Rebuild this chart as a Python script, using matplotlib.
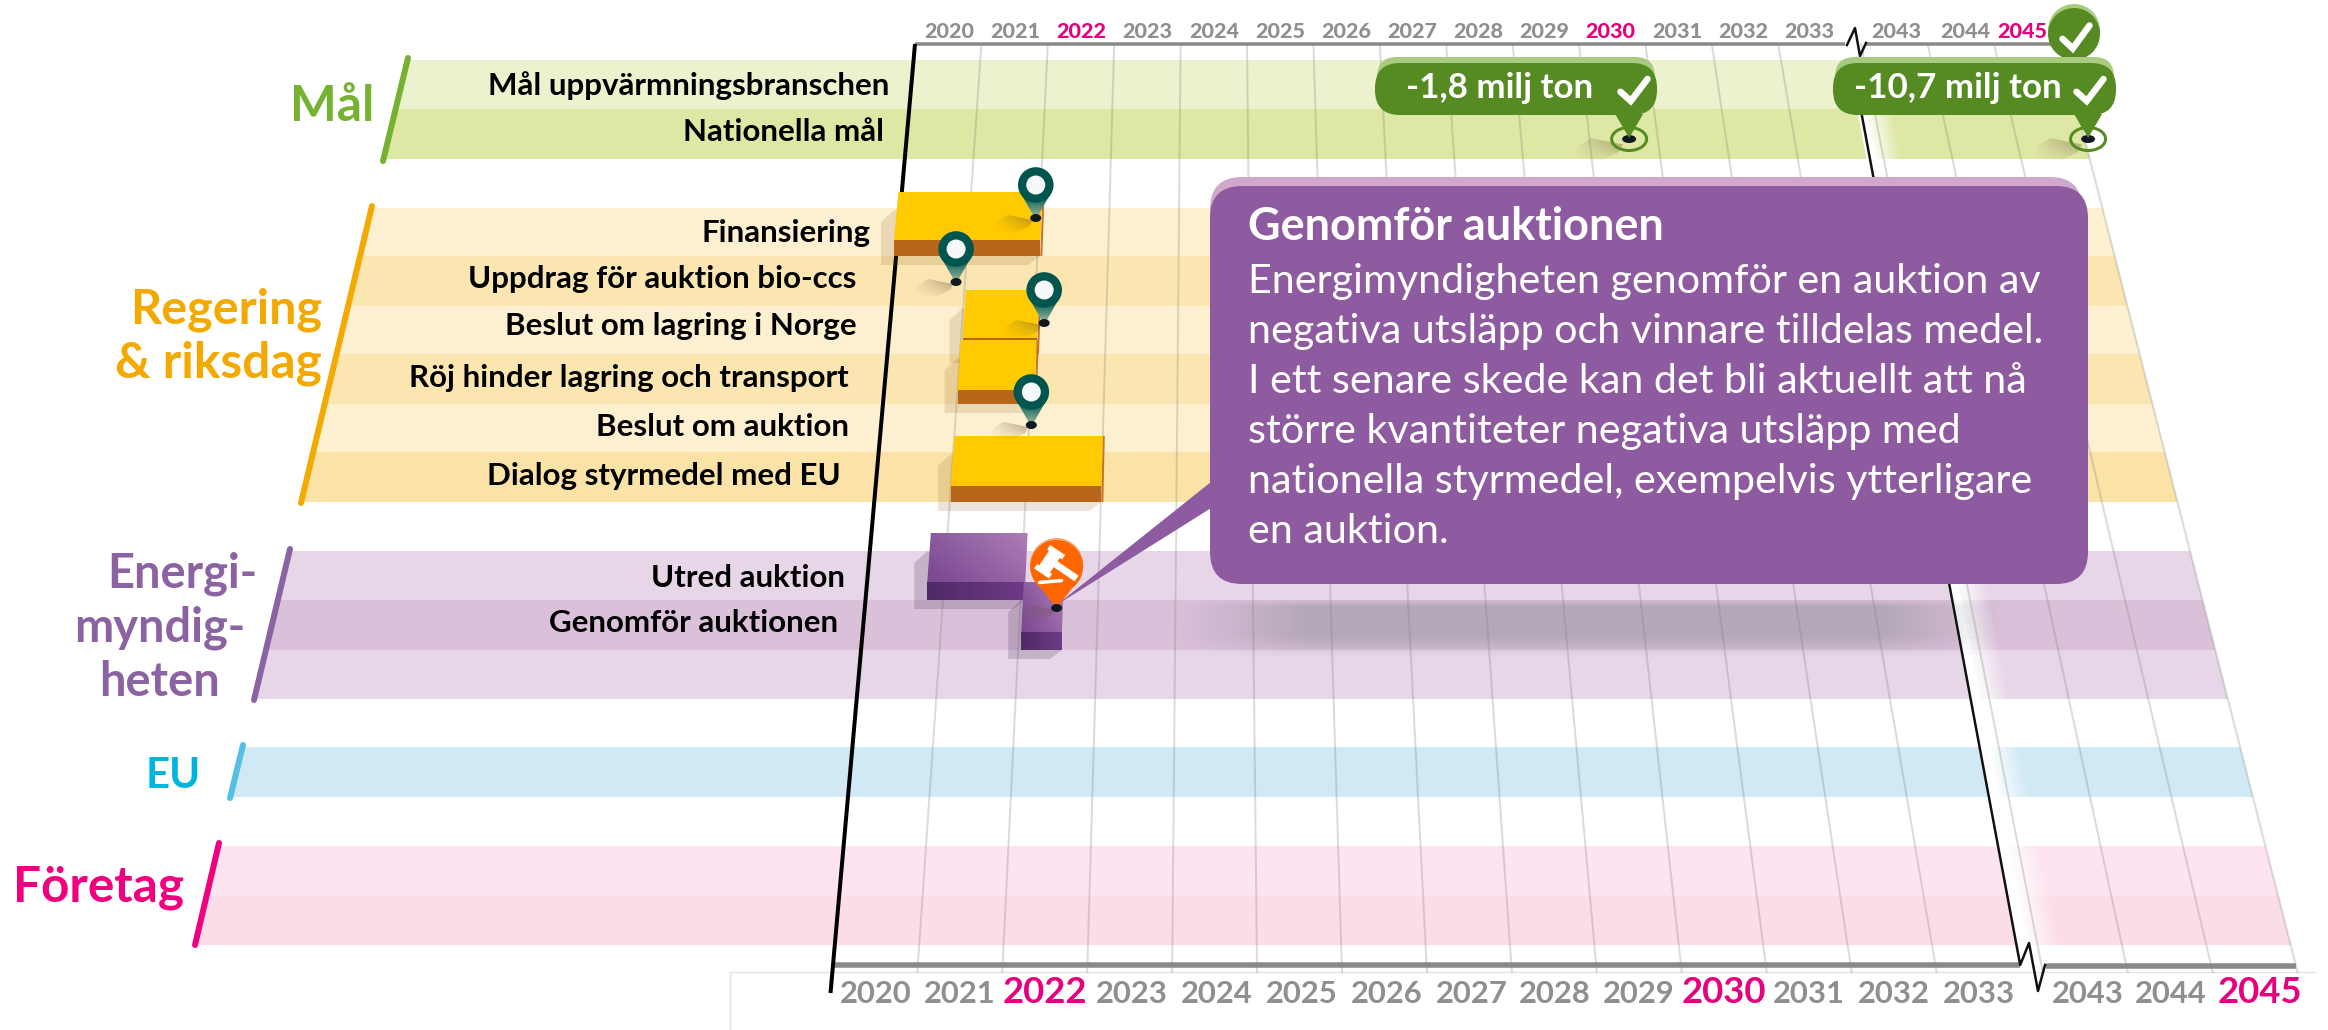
import numpy as np
import matplotlib
matplotlib.use("Agg")
import matplotlib.pyplot as plt
from matplotlib.patches import Polygon, FancyBboxPatch, Ellipse, Circle
from matplotlib.colors import to_rgba

# data
years = [2020, 2021, 2022, 2023, 2024, 2025, 2026, 2027, 2028, 2029, 2030, 2031, 2032, 2033, 2043, 2044, 2045]
pink_years = [2022, 2030, 2045]
year_pos = [0, 1, 2, 3, 4, 5, 6, 7, 8, 9, 10, 11, 12, 13, 14.25, 15.25, 16.25]

group_names = ["Mål", "Regering\n& riksdag", "Energi-\nmyndig-\nheten", "EU", "Företag"]
row_labels = ["Mål uppvärmningsbranschen", "Nationella mål", "Finansiering", "Uppdrag för auktion bio-ccs",
              "Beslut om lagring i Norge", "Röj hinder lagring och transport", "Beslut om auktion",
              "Dialog styrmedel med EU", "Utred auktion", "Genomför auktionen"]

# bars: row index, start, end in years since 2020
bar_rows = ["Finansiering", "Beslut om lagring i Norge", "Röj hinder lagring och transport",
            "Dialog styrmedel med EU", "Utred auktion", "Genomför auktionen"]
bar_start = [-0.05, 1.02, 1.0, 1.0, 0.78, 2.03]
bar_end = [2.03, 2.05, 2.05, 3.0, 2.05, 2.55]

pin_rows = ["Finansiering", "Uppdrag för auktion bio-ccs", "Beslut om lagring i Norge", "Beslut om auktion"]
pin_year = [1.95, 0.875, 2.14, 2.03]

target_names = ["-1,8 milj ton", "-10,7 milj ton"]
target_year = [10.58, 17.3]

callout_title = "Genomför auktionen"
callout_body = ["Energimyndigheten genomför en auktion av",
                "negativa utsläpp och vinnare tilldelas medel.",
                "I ett senare skede kan det bli aktuellt att nå",
                "större kvantiteter negativa utsläpp med",
                "nationella styrmedel, exempelvis ytterligare",
                "en auktion."]

# layout (pixels of the 2328x1030 picture)
Y_TOP, Y_BOT = 44, 965
FONT = "Lato"
GREY = "#8F8F8F"
PINK = "#E6007E"
GREEN = "#558B22"
LIGHT_GREEN = "#A9CB7F"
PURPLE = "#8F5BA0"
LIGHT_PURPLE = "#CFA8CC"

slashes = [((408, 58), (383, 161), "#76B232"), ((372, 206), (301, 503), "#F4A900"),
           ((290, 549), (254, 700), "#8C63A2"), ((243, 745), (230, 798), "#55BFE6"),
           ((219, 843), (195, 945), "#F0007F")]
text_colors = ["#76B232", "#F4A900", "#8C63A2", "#00B4E0", "#F0007F"]
group_bands = [
    [(60, 109, "#ECF1CE"), (109, 159, "#DFE7A4")],
    [(208, 256, "#FDF0D0"), (256, 306, "#FBE6B2"), (306, 354, "#FDF0D0"), (354, 404, "#FBE6B2"),
     (404, 452, "#FDF0D0"), (452, 502, "#FBE2A6")],
    [(551, 600, "#E7D6E8"), (600, 650, "#DAC0D9"), (650, 699, "#E7D6E8")],
    [(747, 797, "#D0E9F5")],
    [(846, 896, "#FDE4F0"), (896, 945, "#FBDDEA")],
]
group_text = [
    [("Mål", 374, 121, 49.5)],
    [("Regering", 322, 323, 48.5), ("& riksdag", 322, 377, 49.5)],
    [("Energi-", 257, 587, 47), ("myndig-", 245, 642, 47), ("heten", 220, 696, 47)],
    [("EU", 201, 788, 42)],
    [("Företag", 184, 902, 49.5)],
]
label_right = [889, 884, 870, 856.5, 856.5, 848.5, 848.5, 841, 845, 838]
label_base = [95, 141, 242, 288, 335, 387, 436, 485, 587, 632]
row_top = {"Finansiering": 208, "Uppdrag för auktion bio-ccs": 256, "Beslut om lagring i Norge": 306,
           "Röj hinder lagring och transport": 354, "Beslut om auktion": 404, "Dialog styrmedel med EU": 452,
           "Utred auktion": 551, "Genomför auktionen": 600}
row_bot = {"Finansiering": 256, "Uppdrag för auktion bio-ccs": 306, "Beslut om lagring i Norge": 354,
           "Röj hinder lagring och transport": 404, "Beslut om auktion": 452, "Dialog styrmedel med EU": 502,
           "Utred auktion": 600, "Genomför auktionen": 650}
bar_lift = [16, 16, 14, 16, 18, 18]
pin_drop = [10, 26, 17, 21]
top_nudge = [0, 0, 0, 0, 0, 0, 0, 0, 0, 0, 0, 0, 0, 0, 5, 7, -2]
bot_nudge = [0, 0, 0, 2, 2, 2, 2, 3, 1, 0, 0, 1, 1, 1, 4, 2, 6]


def xpos(i, y):
    # the time axis is a trapezoid: wider at the bottom than at the top
    t = (y - Y_TOP) / (Y_BOT - Y_TOP)
    return (915 + 66.4 * i) * (1 - t) + (833 + 84.8 * i) * t


def px(size):
    return size * 0.72


def grad_fill(verts, colors, z):
    # colors = corner colours top-left, top-right, bottom-left, bottom-right
    verts = np.array(verts, dtype=float)
    x0, y0 = verts.min(axis=0)
    x1, y1 = verts.max(axis=0)
    c = [np.array(to_rgba(k)) if isinstance(k, str) else np.array(k) for k in colors]
    u = np.linspace(0, 1, 40)[None, :, None]
    v = np.linspace(0, 1, 40)[:, None, None]
    img = (c[0] * (1 - u) + c[1] * u) * (1 - v) + (c[2] * (1 - u) + c[3] * u) * v
    im = ax.imshow(img, extent=(x0, x1, y1, y0), aspect="auto", interpolation="bilinear", zorder=z)
    im.set_clip_path(Polygon(verts, transform=ax.transData))


def pin_shadow(tx, ty, s, z):
    col = "#6E5233"
    verts = [(tx - 3, ty + 2 * s), (tx - 28 * s, ty - 3 * s), (tx - 38 * s, ty + 3 * s), (tx - 42 * s, ty + 12 * s),
             (tx - 20 * s, ty + 15 * s), (tx - 6 * s, ty + 8 * s)]
    grad_fill(verts, [to_rgba(col, 0.03), to_rgba(col, 0.5), to_rgba(col, 0.0), to_rgba(col, 0.08)], z)


def check(cx, cy, w, h, lw, z):
    ax.plot([cx - w * 0.5, cx - w * 0.12, cx + w * 0.5], [cy + h * 0.08, cy + h * 0.5, cy - h * 0.5],
            color="white", lw=lw, solid_joinstyle="miter", solid_capstyle="round", zorder=z)


fig = plt.figure(figsize=(23.28, 10.30), dpi=100)
ax = fig.add_axes([0, 0, 1, 1])

# faint frame under the bottom axis
ax.plot([730, 730, 2315], [1030, 972, 972], color="#E4E4E4", lw=1, zorder=1)

# bands and slashes
for bands, (p0, p1, col) in zip(group_bands, slashes):
    for y0, y1, c in bands:
        left = np.interp([y0, y1], [p0[1], p1[1]], [p0[0], p1[0]])
        ax.add_patch(Polygon([(left[0], y0), (xpos(17.25, y0), y0), (xpos(17.25, y1), y1), (left[1], y1)],
                             facecolor=c, edgecolor="none", zorder=2))
    ax.plot([p0[0], p1[0]], [p0[1], p1[1]], color=col, lw=px(6), solid_capstyle="round", zorder=6)

# white gap behind the axis break
ax.add_patch(Polygon([(xpos(14, 46), 46), (xpos(14.15, 46), 46), (xpos(14.15, 962), 962), (xpos(14, 962), 962)],
                     facecolor="white", edgecolor="none", zorder=3))
fade = np.linspace(14.15, 14.5, 15)
for k in range(len(fade) - 1):
    a, b = fade[k], fade[k + 1]
    ax.add_patch(Polygon([(xpos(a, 46), 46), (xpos(b, 46), 46), (xpos(b, 962), 962), (xpos(a, 962), 962)],
                         facecolor="white", edgecolor="none", alpha=float(1 - (k + 1) / 15), zorder=3, lw=0))

# shadow under the callout
ny, nx = 40, 300
sx = np.linspace(1150, 2010, nx)
sy = np.linspace(600, 658, ny)
wx = np.clip((sx - 1175) / 130, 0, 1) * np.clip((2005 - sx) / 120, 0, 1)
wy = np.clip((sy - 598) / 8, 0, 1) * np.clip((658 - sy) / 22, 0, 1)
shadow = np.zeros((ny, nx, 4))
shadow[..., :3] = to_rgba("#788088")[:3]
shadow[..., 3] = 0.38 * np.outer(wy, wx)
ax.imshow(shadow, extent=(1150, 2010, 658, 600), aspect="auto", interpolation="bilinear", zorder=4)

# grid
grid_pos = list(range(14)) + [14.25, 15.25, 16.25, 17.25]
for i in grid_pos:
    ax.plot([xpos(i, Y_TOP), xpos(i, 972)], [Y_TOP, 972], color="#777F77", alpha=0.27, lw=px(2), zorder=5)

# axes
ax.plot([xpos(0, Y_TOP), xpos(14, Y_TOP)], [Y_TOP, Y_TOP], color="#8B888B", lw=px(3.5), solid_capstyle="butt", zorder=7)
ax.plot([1866, xpos(17.25, Y_TOP)], [Y_TOP, Y_TOP], color="#8B888B", lw=px(3.5), solid_capstyle="butt", zorder=7)
ax.plot([xpos(0, Y_BOT), xpos(14, Y_BOT)], [Y_BOT, Y_BOT], color="#8B888B", lw=px(5.5), solid_capstyle="butt", zorder=7)
ax.plot([xpos(14.3, Y_BOT), xpos(17.25, Y_BOT)], [Y_BOT + 1, Y_BOT + 1], color="#8B888B", lw=px(5.5), solid_capstyle="butt", zorder=7)
ax.plot([xpos(0, Y_TOP), xpos(0, 993)], [Y_TOP, 993], color="black", lw=px(4), solid_capstyle="butt", zorder=8)
# the line through the break with its zigzags
ax.plot([1847, 1855, 1860, 1866], [45, 28, 56, 43], color="#111111", lw=px(2.5), zorder=8)
ax.plot([1859, xpos(14, Y_BOT), 2029, 2038, 2045], [100, Y_BOT, 943, 991, 965], color="#111111", lw=px(2.5), zorder=8)

# year labels
for y, p, tn, bn in zip(years, year_pos, top_nudge, bot_nudge):
    col = PINK if y in pink_years else GREY
    ax.text(xpos(p + 0.5, 31) + tn, 38, str(y), color=col, fontsize=px(21.5), family=FONT, weight="black",
            ha="center", va="baseline", zorder=9)
    big = y in pink_years
    ax.text(xpos(p + 0.5, Y_BOT) + bn, 1003, str(y), color=col, fontsize=px(36.5 if big else 31), family=FONT, weight="bold",
            ha="center", va="baseline", zorder=9)

# row labels and group names
for s, xr, yb in zip(row_labels, label_right, label_base):
    ax.text(xr, yb, s, color="black", fontsize=px(31.3), family=FONT, weight="bold", ha="right", va="baseline", zorder=9)
for lines, col in zip(group_text, text_colors):
    for s, xr, yb, size in lines:
        ax.text(xr, yb, s, color=col, fontsize=px(size), family=FONT, weight="bold", ha="right", va="baseline", zorder=9)

# bars
for name, a, b, lift in zip(bar_rows, bar_start, bar_end, bar_lift):
    y3 = row_bot[name]
    y0 = row_top[name] - lift
    y1 = y3 - lift
    purple = row_top[name] > 520
    tl, tr = xpos(a, y0), xpos(b, y0)
    bl, br = xpos(a, y1), xpos(b, y1)
    shade = "#4A3A55" if purple else "#8A5A20"
    ax.add_patch(Polygon([(bl, y0 + 18), (bl - 13, y0 + 30), (bl - 13, y3 + 9), (br - 12, y3 + 9), (br, y3)],
                         facecolor=shade, alpha=0.22 if purple else 0.16, edgecolor="none", zorder=10))
    if purple:
        grad_fill([(tl, y0), (tr, y0), (br, y1), (bl, y1)], ["#8A5A9E", "#AD7DB5", "#7A4690", "#9A68A8"], 11)
        grad_fill([(bl, y1), (br, y1), (br, y3), (bl, y3)], ["#4E2A66", "#6E3A85", "#4E2A66", "#6E3A85"], 11)
    else:
        ax.add_patch(Polygon([(tr, y0), (tr + 2, y0), (br + 2, y3), (br, y3)], facecolor="#C9732A", edgecolor="none", zorder=11))
        ax.add_patch(Polygon([(tl, y0), (tr, y0), (br, y1), (bl, y1)], facecolor="#FFCB00", edgecolor="none", zorder=11))
        ax.add_patch(Polygon([(bl, y1), (br, y1), (br, y3), (bl, y3)], facecolor="#B8671A", edgecolor="none", zorder=11))

# callout with its tail
tip_y = row_top["Genomför auktionen"] + 8
tip_x = xpos(2.47, tip_y)
ax.add_patch(Polygon([(1216, 478), (1216, 505), (tip_x, tip_y - 3)], facecolor=PURPLE, edgecolor="none", zorder=13))
ax.add_patch(FancyBboxPatch((1210, 177), 872, 120, boxstyle="round,pad=0,rounding_size=32",
                            facecolor=LIGHT_PURPLE, edgecolor="none", zorder=20))
ax.add_patch(FancyBboxPatch((1210, 186), 878, 398, boxstyle="round,pad=0,rounding_size=32",
                            facecolor=PURPLE, edgecolor="none", zorder=21))
ax.text(1248, 240, callout_title, color="white", fontsize=px(45), family=FONT, weight="bold", va="baseline", zorder=22)
for k, line in enumerate(callout_body):
    ax.text(1248, 293 + 50 * k, line, color="white", fontsize=px(41.3), family=FONT, va="baseline", zorder=22)

# map pins
for name, p, drop in zip(pin_rows, pin_year, pin_drop):
    ty = row_top[name] + drop
    tx = xpos(p, ty)
    cy = ty - 33
    pin_shadow(tx, ty, 1, 12)
    grad_fill([(tx - 14, cy + 10), (tx + 14, cy + 10), (tx + 1, ty), (tx - 1, ty)],
              ["#00564F", "#00564F", "#9DBB9F", "#9DBB9F"], 14)
    ax.add_patch(Circle((tx, cy), 17.8, facecolor="#00564F", edgecolor="none", zorder=14))
    ax.add_patch(Circle((tx, cy), 9.5, facecolor="#F7F8FA", edgecolor="none", zorder=15))
    ax.add_patch(Ellipse((tx, ty), 11, 8, facecolor="#111820", edgecolor="none", zorder=15))

# auction pin
pin_shadow(tip_x, tip_y, 0.9, 12)
cx, cy = tip_x, tip_y - 41.5
ax.add_patch(Circle((cx, cy - 2), 26.5, facecolor="#F2A877", edgecolor="none", zorder=14))
ax.add_patch(Polygon([(cx - 24, cy + 11), (cx + 24, cy + 11), (tip_x, tip_y)], facecolor="#FF6600", edgecolor="none", zorder=15))
ax.add_patch(Circle((cx, cy), 26.5, facecolor="#FF6600", edgecolor="none", zorder=15))
ax.plot([cx - 5, cx + 20], [cy - 5, cy + 12], color="white", lw=px(7), solid_capstyle="butt", zorder=16)
ax.plot([cx - 13, cx - 1], [cy + 4, cy - 14], color="white", lw=px(13), solid_capstyle="butt", zorder=16)
ax.plot([cx - 15, cx - 12], [cy + 7, cy + 2.5], color="white", lw=px(18), solid_capstyle="butt", zorder=16)
ax.plot([cx - 2, cx + 1], [cy - 12, cy - 16.5], color="white", lw=px(18), solid_capstyle="butt", zorder=16)
ax.plot([cx - 17, cx + 5], [cy + 16, cy + 14], color="white", lw=px(3.5), solid_capstyle="round", zorder=16)
ax.add_patch(Ellipse((tip_x, tip_y), 11, 8, facecolor="#111820", edgecolor="none", zorder=17))

# target pills
pill_x = [(1375, 1657), (1833, 2116)]
text_x = [1500, 1958]
check_x = [1634, 2090]
for name, p, (x0, x1), tx_, cx_ in zip(target_names, target_year, pill_x, text_x, check_x):
    ty = 139
    tx = xpos(p, ty)
    pin_shadow(tx - 3, ty + 3, 1.25, 12)
    ax.add_patch(Ellipse((tx, ty), 35, 23, facecolor="none", edgecolor=GREEN, lw=px(3), zorder=14))
    ax.add_patch(Ellipse((tx, ty), 14, 8, facecolor="#111820", edgecolor="none", zorder=15))
    ax.add_patch(Polygon([(tx - 14, 114), (tx + 14, 114), (tx, ty - 1)], facecolor=GREEN, edgecolor="none", zorder=16))
    ax.add_patch(FancyBboxPatch((x0 + 2, 57), x1 - x0 - 4, 40, boxstyle="round,pad=0,rounding_size=20",
                                facecolor=LIGHT_GREEN, edgecolor="none", zorder=17))
    ax.add_patch(FancyBboxPatch((x0, 63), x1 - x0, 52, boxstyle="round,pad=0,rounding_size=25",
                                facecolor=GREEN, edgecolor="none", zorder=18))
    ax.text(tx_, 98, name, color="white", fontsize=px(35), family=FONT, weight="bold", ha="center", va="baseline", zorder=19)
    check(cx_, 90, 27, 22, px(6.5), 19)

# the check pin at the top right
ax.add_patch(Circle((2074, 30), 26, facecolor=LIGHT_GREEN, edgecolor="none", zorder=15))
ax.add_patch(Polygon([(2050, 42), (2098, 42), (2074, 62)], facecolor=GREEN, edgecolor="none", zorder=15))
ax.add_patch(Circle((2074, 34), 26, facecolor=GREEN, edgecolor="none", zorder=15))
check(2076, 37, 27, 23, px(6.5), 16)

ax.set_xlim(0, 2328)
ax.set_ylim(1030, 0)
ax.axis("off")
fig.savefig("out.png", dpi=100)
